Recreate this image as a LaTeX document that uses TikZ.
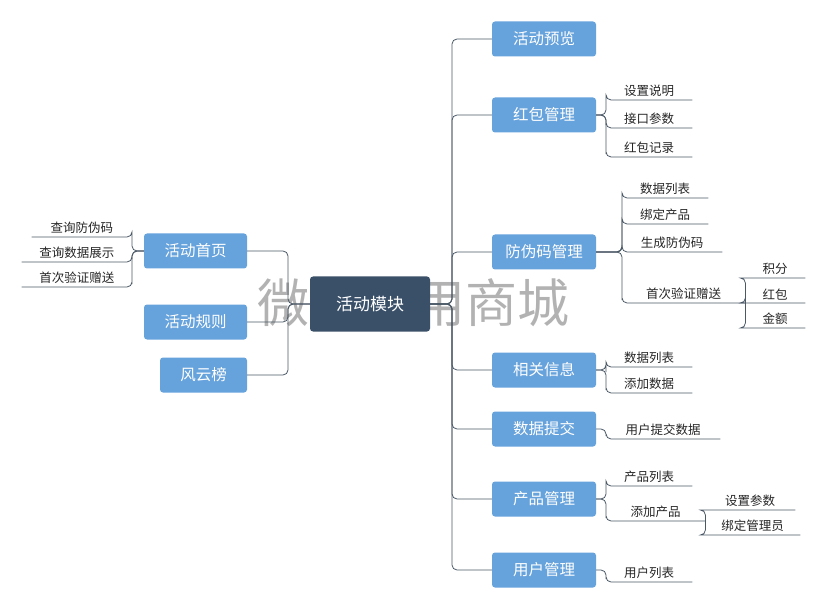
\documentclass[tikz,border=0pt]{standalone}
\usepackage{fontspec}
\newfontfamily\cjk{Noto Sans CJK SC}
\begin{document}
\begin{tikzpicture}[x=1pt,y=-1pt,font=\cjk,
  box/.style={draw=none,fill=boxblue,rounded corners=3,text=white,font=\cjk\fontsize{15.5}{16}\selectfont,minimum height=35,inner sep=0},
  leaf/.style={inner xsep=1.5pt,inner ysep=3pt,font=\cjk\fontsize{12.5}{13}\selectfont,text=black!85,anchor=south west},
  lleaf/.style={leaf,anchor=south east},
  conn/.style={draw=linec,line width=0.8pt,rounded corners=5}]
\definecolor{boxblue}{HTML}{66A2DC}
\definecolor{linec}{HTML}{4B5866}
\definecolor{central}{HTML}{3A5069}
\useasboundingbox (0,0) rectangle (826,609);
\node[text=black!30,font=\cjk\fontsize{52}{52}\selectfont] (wm) at (413,303) {微擎通用商城};
\node[box,fill=central,minimum width=120,minimum height=55,font=\cjk\fontsize{17}{17}\selectfont] (C) at (370,304) {活动模块};
% left
\node[box,minimum width=103] (L1) at (195.5,251) {活动首页};
\node[box,minimum width=103] (L2) at (195.5,322) {活动规则};
\node[box,minimum width=87] (L3) at (203.5,375) {风云榜};
\foreach \n in {L1,L2,L3} \draw[conn] (C.west) -- (288,304) |- (\n.east);
\node[lleaf,minimum width=100] (a1) at (132,237) {查询防伪码};
\node[lleaf,minimum width=110] (a2) at (132,262) {查询数据展示};
\node[lleaf,minimum width=110] (a3) at (132,287) {首次验证赠送};
\foreach \n in {a1,a2,a3} \draw[conn] (L1.west) -- (132,251) |- (\n.south east) -- (\n.south west);
% right
\node[box,minimum width=104] (R1) at (544,39) {活动预览};
\node[box,minimum width=104] (R2) at (544,115) {红包管理};
\node[box,minimum width=104] (R3) at (544,252) {防伪码管理};
\node[box,minimum width=104] (R4) at (544,370) {相关信息};
\node[box,minimum width=104] (R5) at (544,429) {数据提交};
\node[box,minimum width=104] (R6) at (544,499) {产品管理};
\node[box,minimum width=104] (R7) at (544,570) {用户管理};
\foreach \n in {R1,R2,R3,R4,R5,R6,R7} \draw[conn] (C.east) -- (452,304) |- (\n.west);
% 红包管理
\node[leaf,minimum width=86] (b1) at (606,100) {设置说明};
\node[leaf,minimum width=86] (b2) at (606,128) {接口参数};
\node[leaf,minimum width=86] (b3) at (606,157) {红包记录};
\foreach \n in {b1,b2,b3} \draw[conn] (R2.east) -- (606,115) |- (\n.south west) -- (\n.south east);
% 防伪码管理
\node[leaf,minimum width=86] (c1) at (622,198) {数据列表};
\node[leaf,minimum width=86] (c2) at (622,224) {绑定产品};
\node[leaf,minimum width=100] (c3) at (622,252) {生成防伪码};
\node[leaf,minimum width=123] (c4) at (622,303) {首次验证赠送};
\foreach \n in {c1,c2,c3,c4} \draw[conn] (R3.east) -- (622,252) |- (\n.south west) -- (\n.south east);
\node[leaf,minimum width=60] (d1) at (745,278) {积分};
\node[leaf,minimum width=60] (d2) at (745,303) {红包};
\node[leaf,minimum width=60] (d3) at (745,328) {金额};
\foreach \n in {d1,d2,d3} \draw[conn] (c4.south east) |- (\n.south west) -- (\n.south east);
% 相关信息
\node[leaf,minimum width=86] (e1) at (606,367) {数据列表};
\node[leaf,minimum width=86] (e2) at (606,393) {添加数据};
\foreach \n in {e1,e2} \draw[conn] (R4.east) -- (606,370) |- (\n.south west) -- (\n.south east);
% 数据提交
\node[leaf,minimum width=114] (f1) at (606,439) {用户提交数据};
\draw[conn] (R5.east) -- (606,429) |- (f1.south west) -- (f1.south east);
% 产品管理
\node[leaf,minimum width=86] (g1) at (606,486) {产品列表};
\node[leaf,minimum width=99] (g2) at (606,521) {添加产品};
\foreach \n in {g1,g2} \draw[conn] (R6.east) -- (606,499) |- (\n.south west) -- (\n.south east);
\node[leaf,minimum width=90] (h1) at (705,510) {设置参数};
\node[leaf,minimum width=95] (h2) at (705,535) {绑定管理员};
\foreach \n in {h1,h2} \draw[conn] (g2.south east) |- (\n.south west) -- (\n.south east);
% 用户管理
\node[leaf,minimum width=86] (i1) at (606,582) {用户列表};
\draw[conn] (R7.east) -- (606,570) |- (i1.south west) -- (i1.south east);
\end{tikzpicture}
\end{document}
